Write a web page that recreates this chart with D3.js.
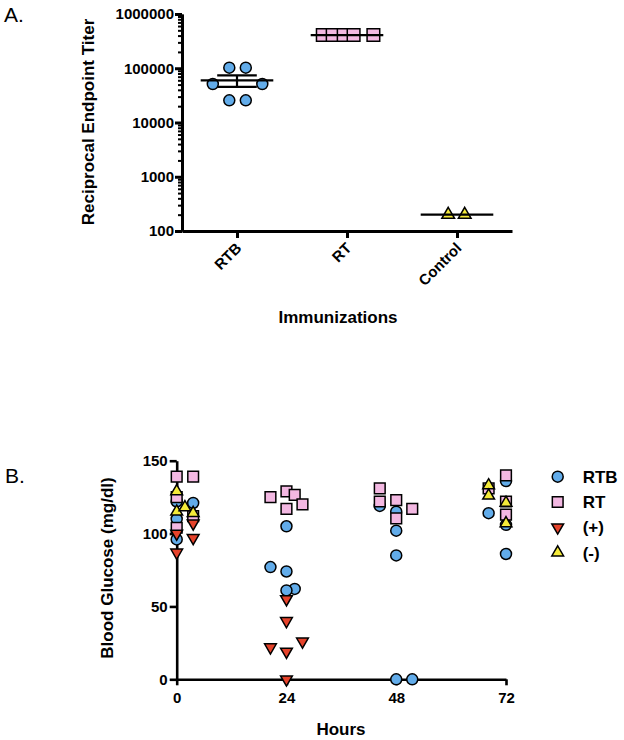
<!DOCTYPE html>
<html><head><meta charset="utf-8">
<script src="https://cdn.jsdelivr.net/npm/d3@7"></script>
<style>
body{margin:0;background:#fff}
svg{display:block}
text{font-family:"Liberation Sans",Arial,Helvetica,sans-serif}
</style>
</head><body>
<svg id="chart" width="624" height="740"></svg>
<script>
// ---------- Panel A data ----------
const categories = ["RTB", "RT", "Control"];
const rtbTiters = [102400, 102400, 51200, 51200, 25600, 25600];
const rtTiters = [409600, 409600, 409600, 409600, 409600];
const controlTiters = [200, 200];
// horizontal scatter of the points, in category-step units
const rtbSpread = [-0.07, 0.08, -0.22, 0.23, -0.07, 0.08];
const rtSpread = [-0.22, -0.13, -0.03, 0.06, 0.24];
const controlSpread = [-0.08, 0.07];
const titerTicks = [100, 1000, 10000, 100000, 1000000];

// ---------- Panel B data ----------
const hourTicks = [0, 24, 48, 72];
const glucoseTicks = [0, 50, 100, 150];
const rtbHours   = [0, 0, 0, 3.6, 24, 20.5, 24, 25.8, 24, 44.4, 48, 48, 48, 48, 51.5, 72, 68.2, 72, 72];
const rtbGlucose = [122, 110, 96, 121, 105, 77, 74, 62, 61, 119, 115, 102, 85, 0, 0, 136, 114, 106, 86];
const rtHours    = [0, 3.6, 0, 0, 3.6, 20.5, 24, 25.8, 27.5, 24, 44.4, 44.4, 48, 48, 51.5, 72, 68.2, 72, 72];
const rtGlucose  = [139, 139, 125, 104, 112, 125, 129, 126.5, 120, 117, 131, 122, 123, 110.5, 117, 140, 131, 122, 113];
const posHours   = [0, 0, 3.6, 3.6, 24, 24, 20.5, 24, 27.5, 24];
const posGlucose = [100, 87, 107, 97, 55, 40, 22, 19, 26, 0];
const negHours   = [0, 0, 1.8, 3.6, 68.2, 68.2, 72, 72];
const negGlucose = [129, 115, 118, 114, 133, 126, 121, 107];
const legendLabels = ["RTB", "RT", "(+)", "(-)"];

// ---------- styles ----------
const colBlue = "#62acea", colPink = "#f3b8e2", colRed = "#e5432b", colYellow = "#f4ea3a";
const svg = d3.select("#chart");

function styleAxis(g, w) {
  g.select(".domain").attr("stroke", "#000").attr("stroke-width", w);
  g.selectAll(".tick line").attr("stroke", "#000").attr("stroke-width", w);
  g.selectAll(".tick text").attr("fill", "#000").attr("font-weight", "bold")
    .attr("font-size", 15).attr("font-family", '"Liberation Sans",Arial,sans-serif');
}
const sym = {
  circle: s => d3.symbol(d3.symbolCircle, s)(),
  square: s => d3.symbol(d3.symbolSquare, s)(),
  tri: s => d3.symbol(d3.symbolTriangle, s)()
};

// ================= Panel A =================
const xA = d3.scalePoint().domain(categories).range([182, 512]).padding(0.5);
const yA = d3.scaleLog().domain([100, 1000000]).range([231, 14]);
const gA = svg.append("g");

svg.append("text").attr("x", 4).attr("y", 22).attr("font-size", 21).text("A.");

// minor ticks
const minor = yA.ticks().filter(v => !titerTicks.includes(v));
const gMinor = gA.append("g").attr("transform", "translate(182,0)")
  .call(d3.axisLeft(yA).tickValues(minor).tickSize(4).tickSizeOuter(0).tickFormat(""));
styleAxis(gMinor, 2);
const gyA = gA.append("g").attr("transform", "translate(182,0)")
  .call(d3.axisLeft(yA).tickValues(titerTicks).tickFormat(d3.format("d")).tickSize(7).tickSizeOuter(0).tickPadding(1));
styleAxis(gyA, 3);

const gxA = gA.append("g").attr("transform", "translate(0,231)")
  .call(d3.axisBottom(xA).tickSize(7).tickSizeOuter(0));
styleAxis(gxA, 3);
gxA.selectAll(".tick text")
  .attr("text-anchor", "end").attr("dy", null).attr("y", null)
  .attr("transform", "translate(5,18) rotate(-45)");

gA.append("text").attr("transform", "translate(94,122) rotate(-90)")
  .attr("text-anchor", "middle").attr("font-weight", "bold").attr("font-size", 17)
  .text("Reciprocal Endpoint Titer");
gA.append("text").attr("x", 338).attr("y", 323).attr("text-anchor", "middle")
  .attr("font-weight", "bold").attr("font-size", 17).text("Immunizations");

const groupsA = [
  {cat: "RTB", vals: rtbTiters, spread: rtbSpread, shape: "circle", size: 95, fill: colBlue},
  {cat: "RT", vals: rtTiters, spread: rtSpread, shape: "square", size: 160, fill: colPink},
  {cat: "Control", vals: controlTiters, spread: controlSpread, shape: "tri", size: 70, fill: colYellow}
];
const step = xA.step();
groupsA.forEach(gr => {
  gA.append("g").selectAll("path").data(gr.vals).join("path")
    .attr("d", sym[gr.shape](gr.size))
    .attr("transform", (v, i) => `translate(${xA(gr.cat) + gr.spread[i] * step},${yA(v)})`)
    .attr("fill", gr.fill).attr("stroke", "#000").attr("stroke-width", 1.5);
});
groupsA.forEach(gr => {
  const m = d3.mean(gr.vals);
  const sd = d3.deviation(gr.vals) || 0;
  const sem = sd / Math.sqrt(gr.vals.length);
  const cx = xA(gr.cat);
  const ln = (x1, y1, x2, y2) => gA.append("line").attr("x1", x1).attr("y1", y1).attr("x2", x2).attr("y2", y2)
    .attr("stroke", "#000").attr("stroke-width", 2.2);
  ln(cx - 0.33 * step, yA(m), cx + 0.33 * step, yA(m));
  if (sem > 0) {
    ln(cx, yA(m - sem), cx, yA(m + sem));
    ln(cx - 0.18 * step, yA(m - sem), cx + 0.18 * step, yA(m - sem));
    ln(cx - 0.18 * step, yA(m + sem), cx + 0.18 * step, yA(m + sem));
  }
});

// ================= Panel B =================
const xB = d3.scaleLinear().domain([0, 72]).range([176.7, 506]);
const yB = d3.scaleLinear().domain([0, 150]).range([679.3, 460.7]);
const gB = svg.append("g");
svg.append("text").attr("x", 5).attr("y", 483).attr("font-size", 21).text("B.");

const gyB = gB.append("g").attr("transform", "translate(176.7,0)")
  .call(d3.axisLeft(yB).tickValues(glucoseTicks).tickSize(7).tickSizeOuter(0).tickPadding(2));
styleAxis(gyB, 2.6);
const gxB = gB.append("g").attr("transform", "translate(0,679.3)")
  .call(d3.axisBottom(xB).tickValues(hourTicks).tickSize(6).tickSizeOuter(0).tickPadding(7));
styleAxis(gxB, 2.6);

gB.append("text").attr("transform", "translate(112.5,568) rotate(-90)")
  .attr("text-anchor", "middle").attr("font-weight", "bold").attr("font-size", 17)
  .text("Blood Glucose (mg/dl)");
gB.append("text").attr("x", 341).attr("y", 735).attr("text-anchor", "middle")
  .attr("font-weight", "bold").attr("font-size", 17).text("Hours");

const seriesB = [
  {xs: rtbHours, ys: rtbGlucose, shape: "circle", size: 95, fill: colBlue, rot: 0},
  {xs: rtHours, ys: rtGlucose, shape: "square", size: 115, fill: colPink, rot: 0},
  {xs: posHours, ys: posGlucose, shape: "tri", size: 60, fill: colRed, rot: 180},
  {xs: negHours, ys: negGlucose, shape: "tri", size: 60, fill: colYellow, rot: 0}
];
seriesB.forEach(s => {
  gB.append("g").selectAll("path").data(s.ys).join("path")
    .attr("d", sym[s.shape](s.size))
    .attr("transform", (v, i) => `translate(${xB(s.xs[i])},${yB(v)}) rotate(${s.rot})`)
    .attr("fill", s.fill).attr("stroke", "#000").attr("stroke-width", 1.5);
});

// legend
const lg = gB.append("g");
legendLabels.forEach((lab, i) => {
  const s = seriesB[i];
  const y = 476.7 + i * 25.3;
  lg.append("path").attr("d", sym[s.shape](s.size))
    .attr("transform", `translate(557.7,${y}) rotate(${s.rot})`)
    .attr("fill", s.fill).attr("stroke", "#000").attr("stroke-width", 1.5);
  lg.append("text").attr("x", 582.7).attr("y", y + 6).attr("font-weight", "bold")
    .attr("font-size", 17).text(lab);
});
</script>
</body></html>
